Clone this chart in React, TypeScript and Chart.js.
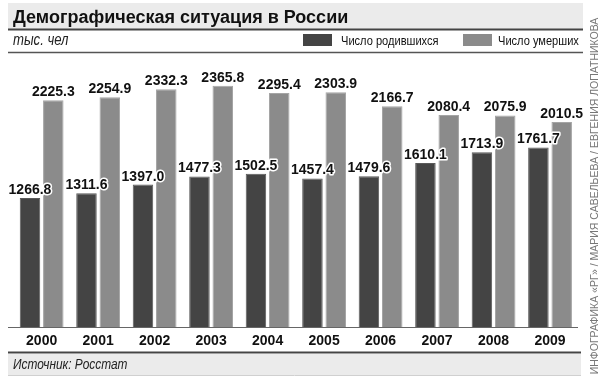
import React, { useEffect, useRef } from 'react';
import { Chart, registerables } from 'chart.js';

Chart.register(...registerables);

const TITLE = 'Демографическая ситуация в России';
const UNIT = 'тыс. чел';
const SOURCE = 'Источник: Росстат';
const CREDIT = 'ИНФОГРАФИКА «РГ» / МАРИЯ САВЕЛЬЕВА / ЕВГЕНИЯ ЛОПАТНИКОВА';

const years = ['2000', '2001', '2002', '2003', '2004', '2005', '2006', '2007', '2008', '2009'];
const seriesNames = ['Число родившихся', 'Число умерших'];
const births = [1266.8, 1311.6, 1397.0, 1477.3, 1502.5, 1457.4, 1479.6, 1610.1, 1713.9, 1761.7];
const deaths = [2225.3, 2254.9, 2332.3, 2365.8, 2295.4, 2303.9, 2166.7, 2080.4, 2075.9, 2010.5];
const seriesColors = ['#444444', '#8b8b8b'];
const seriesBorders = ['#5a5a5a', '#a5a5a5'];

const SANS = '"Liberation Sans", Arial, sans-serif';
const NARROW = '"Liberation Sans Narrow"';

function hasFont(ctx: CanvasRenderingContext2D, fam: string) {
  ctx.font = `40px ${fam}, monospace`;
  const a = ctx.measureText('Число родившихся 2000').width;
  ctx.font = '40px monospace';
  const b = ctx.measureText('Число родившихся 2000').width;
  return Math.abs(a - b) > 0.5;
}

let narrowOK: boolean | null = null;

function narrowText(
  ctx: CanvasRenderingContext2D,
  text: string,
  x: number,
  y: number,
  style: string,
  size: number,
  color: string
) {
  if (narrowOK === null) narrowOK = hasFont(ctx, NARROW);
  ctx.save();
  ctx.fillStyle = color;
  ctx.textAlign = 'left';
  ctx.textBaseline = 'alphabetic';
  if (narrowOK) {
    ctx.font = `${style} ${size}px ${NARROW}, ${SANS}`;
    ctx.fillText(text, x, y);
  } else {
    ctx.font = `${style} ${size}px ${SANS}`;
    ctx.translate(x, y);
    ctx.scale(0.82, 1);
    ctx.fillText(text, 0, 0);
  }
  ctx.restore();
}

const decorPlugin = {
  id: 'decor',
  beforeDraw(chart: any) {
    const ctx: CanvasRenderingContext2D = chart.ctx;
    ctx.save();
    ctx.fillStyle = '#ffffff';
    ctx.fillRect(0, 0, chart.width, chart.height);
    ctx.fillStyle = '#ebebeb';
    ctx.fillRect(8, 3, 575, 26);
    ctx.fillRect(8, 354, 573, 21);
    ctx.restore();
  },
  afterDraw(chart: any) {
    const ctx: CanvasRenderingContext2D = chart.ctx;
    const base = chart.scales.y.getPixelForValue(0);
    ctx.save();
    const line = (x1: number, x2: number, y: number, w: number, c: string) => {
      ctx.beginPath();
      ctx.strokeStyle = c;
      ctx.lineWidth = w;
      ctx.moveTo(x1, y);
      ctx.lineTo(x2, y);
      ctx.stroke();
    };
    line(8, 583, 29.5, 2, '#444');
    line(8, 583, 52.5, 1.5, '#555');
    line(8, 578, Math.round(base) + 0.5, 1, '#666');
    line(8, 581, 352.5, 2, '#444');
    line(8, 581, 375.5, 1, '#d0d0d0');

    ctx.font = `bold 18px ${SANS}`;
    ctx.fillStyle = '#111';
    ctx.textAlign = 'left';
    ctx.textBaseline = 'alphabetic';
    ctx.fillText(TITLE, 13, 23);

    narrowText(ctx, UNIT, 13, 45, 'italic', 16, '#222');

    // legend from datasets
    const boxes = [
      { bx: 303, tx: 341 },
      { bx: 463, tx: 498 },
    ];
    chart.data.datasets.forEach((ds: any, i: number) => {
      const b = boxes[i];
      ctx.fillStyle = ds.backgroundColor;
      ctx.fillRect(b.bx, 34, 29, 12);
      narrowText(ctx, ds.label, b.tx, 45, 'normal', 13.5, '#111');
    });

    narrowText(ctx, SOURCE, 13, 368.5, 'italic', 14.5, '#222');

    ctx.translate(597.5, 196);
    ctx.rotate(-Math.PI / 2);
    ctx.font = `10.5px ${SANS}`;
    ctx.fillStyle = '#777777';
    ctx.textAlign = 'center';
    ctx.textBaseline = 'alphabetic';
    ctx.fillText(CREDIT, 0, 0);
    ctx.restore();
  },
};

const valueLabelPlugin = {
  id: 'valueLabels',
  afterDatasetsDraw(chart: any) {
    const ctx: CanvasRenderingContext2D = chart.ctx;
    ctx.save();
    ctx.font = `bold 14px ${SANS}`;
    ctx.textAlign = 'center';
    ctx.textBaseline = 'alphabetic';
    ctx.lineJoin = 'round';
    chart.data.datasets.forEach((ds: any, di: number) => {
      const meta = chart.getDatasetMeta(di);
      meta.data.forEach((bar: any, i: number) => {
        const txt = Number(ds.data[i]).toFixed(1);
        const y = bar.y - 4;
        ctx.strokeStyle = '#ffffff';
        ctx.lineWidth = 3;
        ctx.strokeText(txt, bar.x, y);
        ctx.fillStyle = '#111111';
        ctx.fillText(txt, bar.x, y);
      });
    });
    ctx.restore();
  },
};

export default function App() {
  const ref = useRef<HTMLCanvasElement | null>(null);

  useEffect(() => {
    if (!ref.current) return;
    const chart = new Chart(ref.current, {
      type: 'bar',
      data: {
        labels: years,
        datasets: [
          {
            label: seriesNames[0],
            data: births,
            backgroundColor: seriesColors[0],
            borderColor: seriesBorders[0],
            borderWidth: 1,
            categoryPercentage: 0.825,
            barPercentage: 0.88,
          },
          {
            label: seriesNames[1],
            data: deaths,
            backgroundColor: seriesColors[1],
            borderColor: seriesBorders[1],
            borderWidth: 1,
            categoryPercentage: 0.825,
            barPercentage: 0.88,
          },
        ],
      },
      options: {
        responsive: false,
        animation: false,
        devicePixelRatio: 1,
        layout: { padding: { left: 13.4, right: 21.7, top: 62, bottom: 33 } },
        plugins: {
          legend: { display: false },
          title: { display: false },
          tooltip: { enabled: false },
        },
        scales: {
          x: {
            grid: { display: false, drawTicks: false },
            border: { display: false },
            ticks: {
              color: '#111',
              padding: 5,
              font: { family: SANS, size: 14, weight: 'bold', lineHeight: 1.286 },
              maxRotation: 0,
            },
          },
          y: {
            display: false,
            min: 0,
            max: 2600,
          },
        },
      },
      plugins: [decorPlugin, valueLabelPlugin],
    });
    return () => chart.destroy();
  }, []);

  return (
    <div style={{ position: 'fixed', left: 0, top: 0, width: 600, height: 388, background: '#fff' }}>
      <canvas ref={ref} width={600} height={388} style={{ display: 'block', width: 600, height: 388 }} />
    </div>
  );
}
